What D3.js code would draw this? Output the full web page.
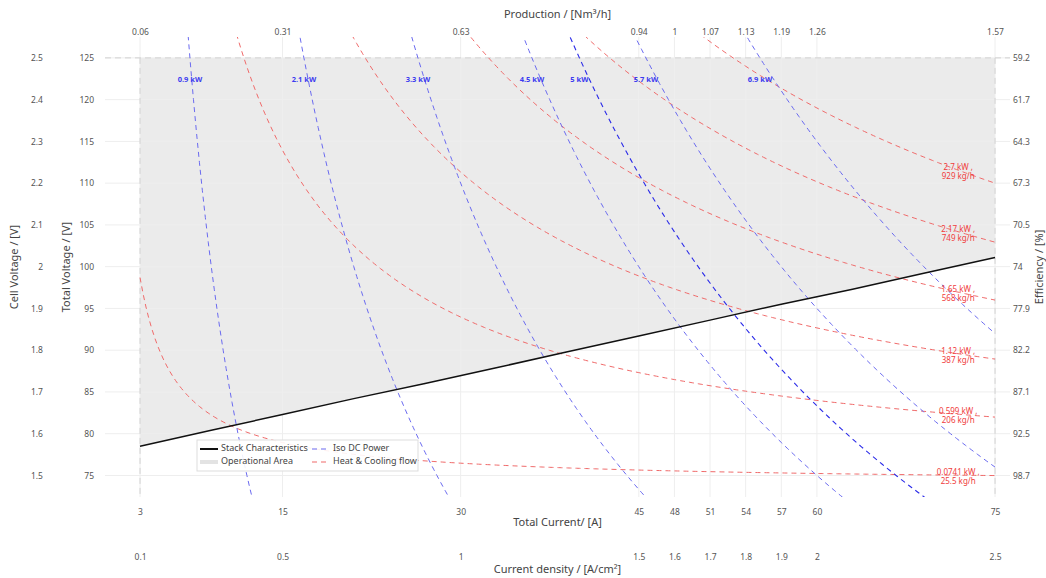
<!DOCTYPE html>
<html>
<head>
<meta charset="utf-8">
<script src="https://cdn.jsdelivr.net/npm/d3@7"></script>
<style>
  body { margin: 0; background: #fff; }
  text { font-family: "Noto Sans", sans-serif; }
</style>
</head>
<body>
<div id="chart"></div>
<script>
const width = 1046;
const height = 578;

// stack characteristics (total current in A, total voltage in V)
const stackCurrent = [3, 9, 15, 21, 27, 33, 39, 45, 51, 57, 63, 69, 75];
const stackVoltage = [78.5, 80.4, 82.3, 84.2, 86.0, 87.9, 89.8, 91.7, 93.6, 95.5, 97.3, 99.2, 101.1];

// iso lines
const isoPowerKW = [0.9, 2.1, 3.3, 4.5, 5, 5.7, 6.9];
const heatKW = [0.0741, 0.599, 1.12, 1.65, 2.17, 2.7];
const coolingFlow = [25.5, 206, 387, 568, 749, 929];
const cells = 50;
const thermoneutral = 1.48;

// ticks
const currentTicks = [3, 15, 30, 45, 48, 51, 54, 57, 60, 75];
const productionLabels = ["0.06", "0.31", "0.63", "0.94", "1", "1.07", "1.13", "1.19", "1.26", "1.57"];
const densityLabels = ["0.1", "0.5", "1", "1.5", "1.6", "1.7", "1.8", "1.9", "2", "2.5"];
const voltageTicks = [75, 80, 85, 90, 95, 100, 105, 110, 115, 120, 125];
const cellVoltageLabels = ["1.5", "1.6", "1.7", "1.8", "1.9", "2", "2.1", "2.2", "2.3", "2.4", "2.5"];
const efficiencyLabels = ["98.7", "92.5", "87.1", "82.2", "77.9", "74", "70.5", "67.3", "64.3", "61.7", "59.2"];

const plot = { left: 105, right: 1010, top: 37, bottom: 497 };

const svg = d3.select("#chart")
  .append("svg")
  .attr("width", width)
  .attr("height", height);

const x = d3.scaleLinear()
  .domain([0.05, 76.26])
  .range([plot.left, plot.right]);

const y = d3.scaleLinear()
  .domain([72.42, 127.5])
  .range([plot.bottom, plot.top]);

svg.append("clipPath")
  .attr("id", "clip")
  .append("rect")
  .attr("x", plot.left)
  .attr("y", plot.top)
  .attr("width", plot.right - plot.left)
  .attr("height", plot.bottom - plot.top);

// operational area
const area = d3.area()
  .x((d, i) => x(stackCurrent[i]))
  .y0((d, i) => y(stackVoltage[i]))
  .y1(() => y(125));

svg.append("path")
  .datum(stackCurrent)
  .attr("d", area)
  .attr("fill", "#ebebeb");

// grid
svg.append("g")
  .selectAll("line")
  .data(currentTicks)
  .enter()
  .append("line")
  .attr("x1", d => x(d))
  .attr("x2", d => x(d))
  .attr("y1", plot.top)
  .attr("y2", plot.bottom)
  .attr("stroke", "#eeeeee");

svg.append("g")
  .selectAll("line")
  .data(voltageTicks)
  .enter()
  .append("line")
  .attr("x1", plot.left)
  .attr("x2", plot.right)
  .attr("y1", d => y(d))
  .attr("y2", d => y(d))
  .attr("stroke", "#eeeeee");

// dashed border of operational area
const border = svg.append("g")
  .attr("stroke", "#d2d2d2")
  .attr("stroke-dasharray", "6,4");
border.append("line")
  .attr("x1", plot.left).attr("x2", plot.right)
  .attr("y1", y(125)).attr("y2", y(125));
[3, 75].forEach(c => {
  border.append("line")
    .attr("x1", x(c)).attr("x2", x(c))
    .attr("y1", y(125)).attr("y2", plot.bottom);
});

const samples = d3.range(3, 75.001, 0.25);
const line = d3.line()
  .x(d => x(d[0]))
  .y(d => y(d[1]));

const curves = svg.append("g").attr("clip-path", "url(#clip)");

// heat & cooling flow
heatKW.forEach(h => {
  curves.append("path")
    .datum(samples.map(c => [c, cells * thermoneutral + h * 1000 / c]))
    .attr("d", line)
    .attr("fill", "none")
    .attr("stroke", "#f06a6a")
    .attr("stroke-width", 1)
    .attr("stroke-dasharray", "5,4");
});

// iso DC power
isoPowerKW.forEach(p => {
  curves.append("path")
    .datum(samples.map(c => [c, p * 1000 / c]))
    .attr("d", line)
    .attr("fill", "none")
    .attr("stroke", p === 5 ? "#2a2ae8" : "#6a6af0")
    .attr("stroke-width", p === 5 ? 1.1 : 1)
    .attr("stroke-dasharray", "5,4");
});

// stack characteristics
svg.append("path")
  .datum(stackCurrent.map((c, i) => [c, stackVoltage[i]]))
  .attr("d", line)
  .attr("fill", "none")
  .attr("stroke", "#111")
  .attr("stroke-width", 1.5);

// iso power labels
svg.append("g")
  .selectAll("text")
  .data(isoPowerKW)
  .enter()
  .append("text")
  .attr("x", d => x(d * 1000 / 125))
  .attr("y", y(125) + 24)
  .attr("text-anchor", "middle")
  .attr("font-size", 7.5)
  .attr("font-weight", "bold")
  .attr("fill", "#3c3cf0")
  .text(d => d + " kW");

// heat labels
const heatLabels = svg.append("g")
  .attr("fill", "#f03c3c")
  .attr("font-size", 8)
  .attr("text-anchor", "middle");
heatKW.forEach((h, i) => {
  const cy = y(cells * thermoneutral + h * 1000 / 71.9);
  heatLabels.append("text")
    .attr("x", x(71.9))
    .attr("y", cy)
    .text(h + " kW ,");
  heatLabels.append("text")
    .attr("x", x(71.9))
    .attr("y", cy + 9)
    .text(coolingFlow[i] + " kg/h");
});

// axes
function styleAxis(g, size) {
  g.select(".domain").remove();
  g.selectAll("text")
    .attr("fill", "#555")
    .attr("font-size", size)
    .style("font-family", "'Noto Sans', sans-serif");
}

svg.append("g")
  .attr("transform", `translate(0,${plot.top})`)
  .call(d3.axisTop(x).tickValues(currentTicks).tickSize(0).tickPadding(2)
    .tickFormat((d, i) => productionLabels[i]))
  .call(g => styleAxis(g, 8.5));

svg.append("g")
  .attr("transform", `translate(0,${plot.bottom})`)
  .call(d3.axisBottom(x).tickValues(currentTicks).tickSize(0).tickPadding(12)
    .tickFormat(d => d))
  .call(g => styleAxis(g, 8.5));

svg.append("g")
  .attr("transform", `translate(0,${plot.bottom})`)
  .call(d3.axisBottom(x).tickValues(currentTicks).tickSize(0).tickPadding(57)
    .tickFormat((d, i) => densityLabels[i]))
  .call(g => styleAxis(g, 8.5));

svg.append("g")
  .attr("transform", `translate(${plot.left},0)`)
  .call(d3.axisLeft(y).tickValues(voltageTicks).tickSize(0).tickPadding(11)
    .tickFormat(d => d))
  .call(g => styleAxis(g, 8.5));

svg.append("g")
  .attr("transform", `translate(${plot.left},0)`)
  .call(d3.axisLeft(y).tickValues(voltageTicks).tickSize(0).tickPadding(62)
    .tickFormat((d, i) => cellVoltageLabels[i]))
  .call(g => styleAxis(g, 8.5));

svg.append("g")
  .attr("transform", `translate(${plot.right},0)`)
  .call(d3.axisRight(y).tickValues(voltageTicks).tickSize(0).tickPadding(3)
    .tickFormat((d, i) => efficiencyLabels[i]))
  .call(g => styleAxis(g, 8.5));

// titles
const midX = (plot.left + plot.right) / 2;
const midY = (plot.top + plot.bottom) / 2;
const titles = svg.append("g")
  .attr("fill", "#444")
  .attr("font-size", 11)
  .attr("text-anchor", "middle")
  .attr("dominant-baseline", "middle");
titles.append("text").attr("x", midX).attr("y", 15).text("Production / [Nm³/h]");
titles.append("text").attr("x", midX).attr("y", 523).text("Total Current/ [A]");
titles.append("text").attr("x", midX).attr("y", 570).text("Current density / [A/cm²]");
titles.append("text").attr("transform", `translate(15,${midY}) rotate(-90)`).text("Cell Voltage / [V]");
titles.append("text").attr("transform", `translate(67,${midY}) rotate(-90)`).text("Total Voltage / [V]");
titles.append("text").attr("transform", `translate(1040,${midY}) rotate(-90)`).text("Efficiency / [%]");

// legend
const legend = svg.append("g").attr("transform", "translate(197,440)");
legend.append("rect")
  .attr("width", 221)
  .attr("height", 31)
  .attr("fill", "rgba(255,255,255,0.9)")
  .attr("stroke", "#dddddd");

const legendItems = [
  { label: "Stack Characteristics", color: "#111", dash: null, w: 2, col: 0, row: 0 },
  { label: "Operational Area", color: "#e3e3e3", dash: null, w: 4, col: 0, row: 1 },
  { label: "Iso DC Power", color: "#6a6af0", dash: "5,4", w: 1.2, col: 1, row: 0 },
  { label: "Heat & Cooling flow", color: "#f06a6a", dash: "5,4", w: 1.2, col: 1, row: 1 }
];

const item = legend.selectAll("g.item")
  .data(legendItems)
  .enter()
  .append("g")
  .attr("class", "item")
  .attr("transform", d => `translate(${d.col ? 115 : 3},${d.row ? 22 : 9})`);

item.append("line")
  .attr("x1", 0).attr("x2", 18)
  .attr("stroke", d => d.color)
  .attr("stroke-width", d => d.w)
  .attr("stroke-dasharray", d => d.dash);

item.append("text")
  .attr("x", 21)
  .attr("dominant-baseline", "middle")
  .attr("font-size", 9)
  .attr("fill", "#444")
  .text(d => d.label);
</script>
</body>
</html>
